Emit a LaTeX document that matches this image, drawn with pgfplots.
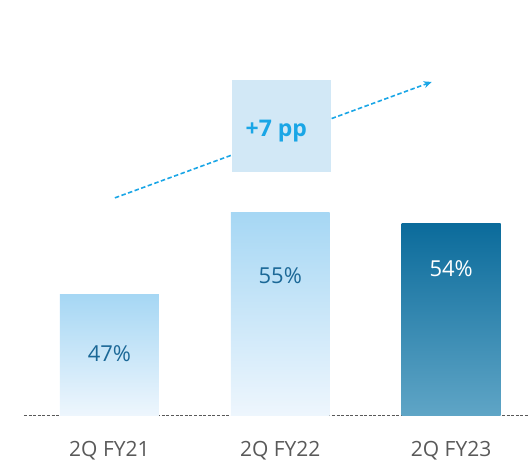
\documentclass[border=0pt]{standalone}
\usepackage{pgfplots}
\pgfplotsset{compat=1.18}
\usetikzlibrary{arrows.meta}
\usepackage{fontspec}
\setmainfont{Open Sans}
\definecolor{lighttop}{HTML}{A6D7F4}
\definecolor{lightbot}{HTML}{EEF6FD}
\definecolor{darktop}{HTML}{0B6B9B}
\definecolor{darkbot}{HTML}{5FA5C6}
\definecolor{boxfill}{HTML}{D2E8F6}
\definecolor{arrowblue}{HTML}{1AA6E6}
\definecolor{lbldark}{HTML}{1B6897}
\definecolor{catgray}{HTML}{595959}
\begin{document}
\begin{tikzpicture}
\begin{axis}[
  scale only axis,
  width=529pt, height=467pt,
  xmin=-0.6404, xmax=2.4532,
  ymin=30.22, ymax=75.78,
  axis lines=none,
  clip=false,
  xtick=\empty,
  ytick=\empty,
]
\path (rel axis cs:0,0) rectangle (rel axis cs:1,1);
% dashed baseline
\draw[catgray, line width=0.9pt, dash pattern=on 3pt off 1.6pt] (axis cs:-0.5,35.2) -- (axis cs:2.4532,35.2);
% bars
\addplot[draw=none, top color=lighttop, bottom color=lightbot] coordinates {(-0.2895,35.2) (-0.2895,47) (0.2895,47) (0.2895,35.2)} -- cycle;
\addplot[draw=none, top color=lighttop, bottom color=lightbot] coordinates {(0.7105,35.2) (0.7105,55) (1.2895,55) (1.2895,35.2)} -- cycle;
\addplot[draw=none, top color=darktop, bottom color=darkbot] coordinates {(1.7105,35.2) (1.7105,54) (2.2895,54) (2.2895,35.2)} -- cycle;
% arrow
\draw[arrowblue, line width=1.6pt, dash pattern=on 4.5pt off 2.5pt, -{Stealth[length=8pt,width=7pt]}] (axis cs:0.032,56.46) -- (axis cs:1.886,67.78);
% box
\fill[boxfill] (axis cs:0.716,59.0) rectangle (axis cs:1.295,67.98);
\node[anchor=base, text=arrowblue, font=\fontsize{23}{26}\selectfont\bfseries] at (axis cs:0.977,62.44) {+7 pp};
% value labels
\node[anchor=base, text=lbldark, font=\fontsize{22}{26}\selectfont] at (axis cs:0,40.49) {47\%};
\node[anchor=base, text=lbldark, font=\fontsize{22}{26}\selectfont] at (axis cs:1,48.14) {55\%};
\node[anchor=base, text=white, font=\fontsize{22}{26}\selectfont] at (axis cs:2,48.79) {54\%};
% category labels
\node[anchor=base, text=catgray, font=\fontsize{21}{24}\selectfont] at (axis cs:0,31.22) {2Q FY21};
\node[anchor=base, text=catgray, font=\fontsize{21}{24}\selectfont] at (axis cs:1,31.22) {2Q FY22};
\node[anchor=base, text=catgray, font=\fontsize{21}{24}\selectfont] at (axis cs:2,31.22) {2Q FY23};
\end{axis}
\end{tikzpicture}
\end{document}
